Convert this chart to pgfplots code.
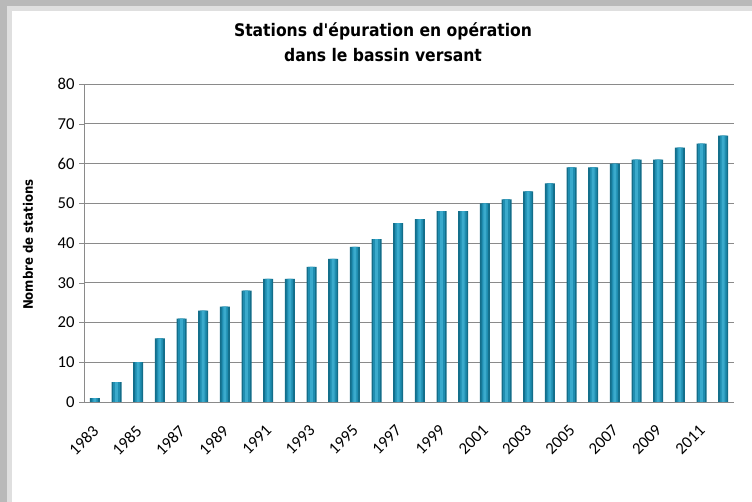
\documentclass[border=0pt]{standalone}
\usepackage{pgfplots}
\usepackage{pgfplotstable}
\pgfplotsset{compat=1.18}
\usepackage{fontspec}
\setmainfont{Carlito}
\newfontfamily\titlefont{DejaVu Sans Condensed}
\definecolor{barA}{HTML}{136E8A}
\definecolor{barB}{HTML}{1F8DB0}
\definecolor{barC}{HTML}{3AAACC}
\definecolor{gridc}{HTML}{8A8A8A}
\pgfplotstableread{
year value
1983 1
1984 5
1985 10
1986 16
1987 21
1988 23
1989 24
1990 28
1991 31
1992 31
1993 34
1994 36
1995 39
1996 41
1997 45
1998 46
1999 48
2000 48
2001 50
2002 51
2003 53
2004 55
2005 59
2006 59
2007 60
2008 61
2009 61
2010 64
2011 65
2012 67
}\stations
\begin{document}
\begin{tikzpicture}
\path[use as bounding box] (0,0) rectangle (564pt,376.5pt);
\fill[gray!55] (0,0) rectangle (564pt,376.5pt);
\fill[gray!25] (5pt,0) rectangle (564pt,372pt);
\fill[white] (9pt,0) rectangle (564pt,368.25pt);
\begin{axis}[
  at={(63pt,75pt)}, anchor=south west,
  scale only axis, width=487.5pt, height=238.5pt,
  xmin=1982.5, xmax=2012.5, ymin=0, ymax=80,
  axis x line*=bottom, axis y line*=left,
  axis line style={gridc},
  ytick={0,10,...,80},
  ymajorgrids, grid style={gridc, line width=0.6pt},
  xtick={1983,1985,...,2011},
  minor xtick={1982.5,1983.5,...,2012.5},
  x tick label style={rotate=45, anchor=north east, inner sep=1pt, font=\fontsize{12.5}{14}\selectfont, xshift=-9.9pt, yshift=-6.3pt},
  y tick label style={font=\fontsize{12.5}{14}\selectfont},
  xticklabel={\pgfmathprintnumber[1000 sep={}]{\tick}},
  /pgf/number format/assume math mode=true,
  tick align=outside,
  major tick length=3.5pt, minor tick length=3.5pt,
  xtick style={draw=none},
  minor x tick style={gridc},
  ytick style={gridc},
  clip=false,
]
\addplot[ybar, bar width=7.5pt, bar shift=0pt, draw=none, fill=barA] table[x=year,y=value] {\stations};
\addplot[ybar, bar width=5pt, bar shift=0pt, draw=none, fill=barB] table[x=year,y=value] {\stations};
\addplot[ybar, bar width=2.2pt, bar shift=0pt, draw=none, fill=barC] table[x=year,y=value] {\stations};
\end{axis}
\node[rotate=90, font=\titlefont\bfseries\fontsize{9.8}{11}\selectfont] at (21pt,193pt) {Nombre de stations};
\node[align=center, font=\titlefont\bfseries\fontsize{13}{19}\selectfont] at (287.25pt,345pt) {Stations d'épuration en opération\\dans le bassin versant};
\end{tikzpicture}
\end{document}
